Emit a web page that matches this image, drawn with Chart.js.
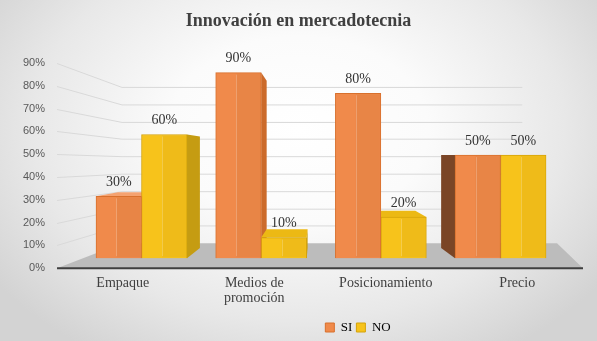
<!DOCTYPE html>
<html>
<head>
<meta charset="utf-8">
<script src="https://cdn.jsdelivr.net/npm/chart.js@4.4.0/dist/chart.umd.min.js"></script>
<style>
  html, body { margin: 0; padding: 0; }
  #wrap {
    width: 597px; height: 341px; position: relative;
    background: radial-gradient(ellipse 62% 78% at 50% 38%, #ffffff 0%, #fbfbfb 35%, #e8e8e8 72%, #d3d3d3 100%);
  }
</style>
</head>
<body>
<div id="wrap"><canvas id="chart" width="597" height="341"></canvas></div>
<script>
const categories = ['Empaque', ['Medios de', 'promoción'], 'Posicionamiento', 'Precio'];
const siValues = [30, 90, 80, 50];
const noValues = [60, 10, 20, 50];
const seriesNames = ['SI', 'NO'];

// depth of the boxes: back face = point scaled toward a vanishing point
const BAR_VP = { x: 316, y: 155, s: 0.9 };
const WALL_VP = { x: 329, y: 163.6, s: 0.761 };

const toPoints = (vals) => vals.map((v, i) => ({ x: i, y: v }));

const box3d = {
  id: 'box3d',
  afterLayout(chart) {
    // title centred on the page, legend under the right half like the original
    chart.titleBlock.left = 0;
    chart.titleBlock.right = chart.width;
    chart.legend.left += 61;
    chart.legend.right += 61;
    chart.legend.top += 3;
    chart.legend.bottom += 3;
  },
  beforeDatasetsDraw(chart) {
    const { ctx, chartArea: a, scales } = chart;
    const wx = (x) => WALL_VP.x + WALL_VP.s * (x - WALL_VP.x);
    const wy = (y) => WALL_VP.y + WALL_VP.s * (y - WALL_VP.y);
    ctx.save();

    // grid lines bent along the side wall, then across the back wall
    ctx.strokeStyle = '#d9d9d9';
    ctx.lineWidth = 1;
    scales.yL.ticks.forEach((t) => {
      if (t.value <= 0) return;
      const y = Math.round(scales.yL.getPixelForValue(t.value)) + 0.5;
      ctx.beginPath();
      ctx.moveTo(a.left, y);
      ctx.lineTo(wx(a.left), wy(y));
      ctx.lineTo(wx(a.right), wy(y));
      ctx.stroke();
    });

    // floor
    const backY = wy(a.bottom);
    ctx.fillStyle = '#bcbcbc';
    ctx.beginPath();
    ctx.moveTo(a.left, a.bottom);
    ctx.lineTo(wx(a.left), backY);
    ctx.lineTo(a.right - 26, backY);
    ctx.lineTo(a.right, a.bottom);
    ctx.closePath();
    ctx.fill();
    ctx.strokeStyle = '#3f3f3f';
    ctx.lineWidth = 2;
    ctx.beginPath();
    ctx.moveTo(a.left, a.bottom);
    ctx.lineTo(a.right, a.bottom);
    ctx.stroke();

    // sides and tops of the boxes, fronts are drawn by Chart.js on top
    const bx = (x) => BAR_VP.x + BAR_VP.s * (x - BAR_VP.x);
    const by = (y) => BAR_VP.y + BAR_VP.s * (y - BAR_VP.y);
    const poly = (pts, color) => {
      ctx.fillStyle = color;
      ctx.beginPath();
      pts.forEach((p, i) => (i ? ctx.lineTo(p[0], p[1]) : ctx.moveTo(p[0], p[1])));
      ctx.closePath();
      ctx.fill();
    };
    chart.data.datasets.forEach((ds, di) => {
      chart.getDatasetMeta(di).data.forEach((bar) => {
        const { x, y, base, width } = bar.getProps(['x', 'y', 'base', 'width'], true);
        const l = x - width / 2;
        const r = x + width / 2;
        if (r < BAR_VP.x) {
          poly([[r, y], [r, base], [bx(r), by(base)], [bx(r), by(y)]], ds.sideColor);
        }
        if (l > BAR_VP.x + 40) {
          poly([[l, y], [l, base], [bx(l), by(base)], [bx(l), by(y)]], ds.darkSideColor);
        }
        if (y > BAR_VP.y) {
          poly([[l, y], [r, y], [bx(r), by(y)], [bx(l), by(y)]], ds.topColor);
        }
      });
    });
    ctx.restore();
  },
  afterDatasetsDraw(chart) {
    const { ctx } = chart;
    ctx.save();
    chart.data.datasets.forEach((ds, di) => {
      chart.getDatasetMeta(di).data.forEach((bar, i) => {
        const { x, y, base, width } = bar.getProps(['x', 'y', 'base', 'width'], true);
        const l = x - width / 2;
        // soft shading on the right part of the front face
        ctx.fillStyle = 'rgba(120,60,0,0.06)';
        ctx.fillRect(l + width * 0.45, y + 1, width * 0.55 - 1, base - y - 2);
        ctx.strokeStyle = 'rgba(255,255,255,0.22)';
        ctx.lineWidth = 1;
        ctx.beginPath();
        ctx.moveTo(Math.round(l + width * 0.45) + 0.5, y + 2);
        ctx.lineTo(Math.round(l + width * 0.45) + 0.5, base - 2);
        ctx.stroke();
        // value label
        ctx.fillStyle = '#333333';
        ctx.font = '14px "Liberation Serif"';
        ctx.textAlign = 'center';
        ctx.textBaseline = 'middle';
        ctx.fillText(ds.data[i].y + '%', x, y - 14);
      });
    });
    ctx.restore();
  },
};

new Chart(document.getElementById('chart').getContext('2d'), { // eslint-disable-line no-new
  type: 'bar',
  data: {
    datasets: [
      {
        label: seriesNames[0],
        data: toPoints(siValues),
        backgroundColor: '#f08a4b',
        borderColor: '#d8702d',
        borderWidth: 1,
        sideColor: '#cc6b2b',
        darkSideColor: '#7a4526',
        topColor: '#f5a270',
      },
      {
        label: seriesNames[1],
        data: toPoints(noValues),
        backgroundColor: '#f7c31b',
        borderColor: '#d4a30b',
        borderWidth: 1,
        sideColor: '#c59c12',
        darkSideColor: '#7a630c',
        topColor: '#ecb914',
      },
    ],
  },
  options: {
    responsive: false,
    animation: false,
    devicePixelRatio: 1,
    barThickness: 45.5,
    layout: { padding: { left: 11, right: 14, top: 0, bottom: 0 } },
    scales: {
      x: {
        type: 'linear',
        display: false,
        offset: false,
        min: -0.706,
        max: 3.689,
      },
      y: {
        display: false,
        min: -4.85,
        max: 94.66,
      },
      x2: {
        type: 'category',
        position: 'bottom',
        labels: categories,
        offset: true,
        grid: { display: false, drawTicks: false },
        border: { display: false },
        ticks: {
          color: '#404040',
          font: { family: 'Liberation Serif', size: 14, lineHeight: 1.1 },
          padding: 7.5,
          maxRotation: 0,
          autoSkip: false,
        },
      },
      yL: {
        type: 'linear',
        position: 'left',
        min: 0,
        max: 90,
        grid: { display: false, drawTicks: false },
        border: { display: false },
        ticks: {
          stepSize: 10,
          color: '#595959',
          font: { family: 'Liberation Sans', size: 11 },
          padding: 12,
          callback: (v) => v + '%',
        },
      },
    },
    plugins: {
      title: {
        display: true,
        text: 'Innovación en mercadotecnia',
        color: '#404040',
        font: { family: 'Liberation Serif', size: 18, weight: 'bold' },
        padding: { top: 11, bottom: 30.4 },
      },
      legend: {
        position: 'bottom',
        labels: {
          boxWidth: 9,
          boxHeight: 9,
          padding: 4,
          color: '#000000',
          font: { family: 'Liberation Serif', size: 13 },
        },
      },
      tooltip: { enabled: false },
    },
  },
  plugins: [box3d],
});
</script>
</body>
</html>
